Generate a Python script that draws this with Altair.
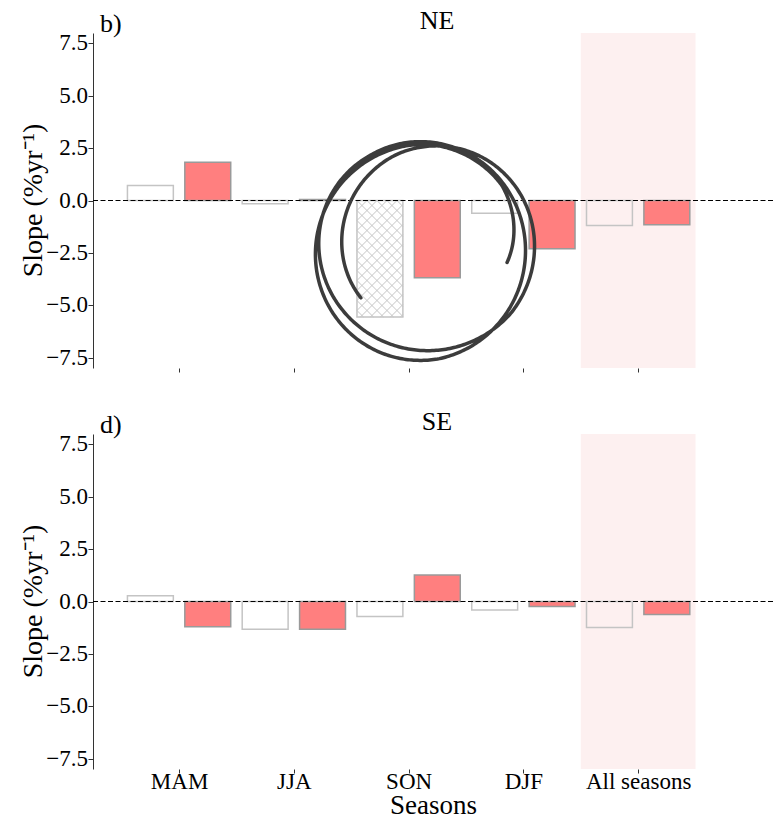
import json

import altair as alt
import numpy as np
import pandas as pd

# ---- values -------------------------------------------------------------
seasons = ["MAM", "JJA", "SON", "DJF", "All seasons"]
ne_white = [0.72, -0.16, -5.57, -0.61, -1.19]
ne_red = [1.83, 0.05, -3.69, -2.31, -1.16]
se_white = [0.27, -1.32, -0.72, -0.40, -1.24]
se_red = [-1.21, -1.32, 1.27, -0.24, -0.62]
y_ticks = [-7.5, -5.0, -2.5, 0.0, 2.5, 5.0, 7.5]
y_title = "Slope (%yr⁻¹)"
highlight_season = "All seasons"

# ---- geometry and style -------------------------------------------------
FONT = "Liberation Serif"
W, H = 680, 335
X_DOMAIN = [-0.75, 5.175]
Y_DOMAIN = [-8.0, 8.0]
OFFSET, HALF = 0.25, 0.2          # bar centre offset and half width (x units)
KX = W / (X_DOMAIN[1] - X_DOMAIN[0])   # pixels per x unit
KY = H / (Y_DOMAIN[1] - Y_DOMAIN[0])   # pixels per y unit
RED = "#ff7f7f"
WHITE_EDGE = "#c4c4c4"
RED_EDGE = "#9a9a9a"
BAND = "#fdf0f0"
HATCH = "#c6c6c6"
INK = "#333333"

X_SCALE = alt.Scale(domain=X_DOMAIN, nice=False, zero=False)
Y_SCALE = alt.Scale(domain=Y_DOMAIN, nice=False, zero=False)


def bar_table(white, red):
    rows = []
    for i, s in enumerate(seasons):
        for series, vals, off in (("white", white, -OFFSET), ("red", red, OFFSET)):
            c = i + off
            rows.append(dict(season=s, series=series, x=c - HALF, x2=c + HALF,
                             value=vals[i], base=0.0))
    return pd.DataFrame(rows)


def hatch_table(x0, x1, v, spacing=10.0):
    """Cross-hatch segments (45 degrees on screen) filling a bar from 0 to v."""
    w = (x1 - x0) * KX
    h = abs(v) * KY
    top = max(v, 0.0)
    segs = []
    # family y = x + c
    for c in np.arange(-np.ceil(w / spacing) * spacing, h, spacing):
        lo, hi = max(0.0, -c), min(w, h - c)
        if hi - lo > 0.5:
            segs.append((lo, lo + c, hi, hi + c))
    # family y = -x + c
    for c in np.arange(spacing, w + h, spacing):
        lo, hi = max(0.0, c - h), min(w, c)
        if hi - lo > 0.5:
            segs.append((lo, c - lo, hi, c - hi))
    rows = [dict(x=x0 + a / KX, y=top - b / KY, x2=x0 + cc / KX, y2=top - d / KY)
            for a, b, cc, d in segs]
    return pd.DataFrame(rows)


def scribble_table():
    """Hand-drawn loop around the SON group (pixel frame of the plot area)."""
    deg = np.linspace(145, 1091, 900)
    th = np.radians(deg)
    r = np.interp(deg, [145, 250, 400, 600, 800, 990, 1040, 1091],
                  [0.78, 0.9, 1.0, 0.95, 1.01, 0.97, 0.9, 0.735])
    cx = 332 + 6 * np.sin(th * 0.37)
    cy = 214 + 4 * np.cos(th * 0.41)
    px = cx + 108 * r * np.cos(th)
    py = cy + 109 * r * np.sin(th)
    return pd.DataFrame({"k": np.arange(len(deg)),
                         "x": X_DOMAIN[0] + px / KX,
                         "y": Y_DOMAIN[1] - py / KY})


def x_axis(show_labels):
    kw = dict(values=list(range(len(seasons))), grid=False, domain=False,
              ticks=True, tickSize=4, tickColor=INK, tickWidth=1,
              labels=show_labels)
    if show_labels:
        kw.update(labelExpr=f"{json.dumps(seasons)}[datum.value]",
                  labelFont=FONT, labelFontSize=23, labelColor="black",
                  labelPadding=-3, title="Seasons", titleFont=FONT,
                  titleFontSize=27, titleFontWeight="normal",
                  titleColor="black", titlePadding=-1)
    else:
        kw.update(title=None)
    return alt.Axis(**kw)


def y_axis():
    # spine and ticks only; tick labels and the title are text layers
    return alt.Axis(values=y_ticks, grid=False, domainColor=INK, domainWidth=1,
                    tickColor=INK, tickSize=5, labels=False, title=None)


def panel(tag, region, white, red, show_labels, hatched_season=None):
    xa = x_axis(show_labels)
    ya = y_axis()
    bars = bar_table(white, red)

    def X(field):
        return alt.X(field, type="quantitative", scale=X_SCALE, axis=xa)

    def Y(field):
        return alt.Y(field, type="quantitative", scale=Y_SCALE, axis=ya)

    hi = seasons.index(highlight_season)
    band_df = pd.DataFrame({"x": [hi - 0.5], "x2": [hi + 0.5],
                            "y": [Y_DOMAIN[1]], "y2": [Y_DOMAIN[0]]})
    band = alt.Chart(band_df).mark_rect(color=BAND).encode(
        x=X("x"), x2="x2", y=Y("y"), y2="y2")

    white_bars = alt.Chart(bars[bars.series == "white"]).mark_bar(
        fill="white", fillOpacity=0, stroke=WHITE_EDGE, strokeWidth=1.5).encode(
        x=X("x"), x2="x2", y=Y("value"), y2="base")

    red_bars = alt.Chart(bars[bars.series == "red"]).mark_bar(
        fill=RED, stroke=RED_EDGE, strokeWidth=1.5).encode(
        x=X("x"), x2="x2", y=Y("value"), y2="base")

    layers = [band, white_bars, red_bars]

    if hatched_season is not None:
        j = seasons.index(hatched_season)
        c = j - OFFSET
        hatch = hatch_table(c - HALF, c + HALF, white[j])
        layers.append(alt.Chart(hatch).mark_rule(color=HATCH, strokeWidth=1).encode(
            x=X("x"), x2="x2", y=Y("y"), y2="y2"))

    zero = alt.Chart(pd.DataFrame({"v": [0.0]})).mark_rule(
        color="black", strokeWidth=1, strokeDash=[5, 2.5]).encode(y=Y("v"))
    layers.append(zero)

    # y tick labels and axis title
    tick_labels = alt.Chart(pd.DataFrame({"v": y_ticks})).mark_text(
        font=FONT, fontSize=23, color="black", align="right",
        baseline="middle").encode(
        y=Y("v"), x=alt.value(-5), text=alt.Text("v:Q", format=".1f"))
    title_y = alt.Chart(pd.DataFrame({"t": [y_title]})).mark_text(
        font=FONT, fontSize=28, color="black", align="center",
        baseline="alphabetic", angle=270).encode(
        text="t:N", x=alt.value(-51), y=alt.value(H / 2))
    layers += [tick_labels, title_y]

    tag_text = alt.Chart(pd.DataFrame({"t": [tag]})).mark_text(
        font=FONT, fontSize=26, color="black", align="left",
        baseline="alphabetic").encode(text="t:N", x=alt.value(7), y=alt.value(-1))
    title_text = alt.Chart(pd.DataFrame({"t": [region]})).mark_text(
        font=FONT, fontSize=26, color="black", align="center",
        baseline="alphabetic").encode(text="t:N", x=alt.value(344), y=alt.value(-4))
    layers += [tag_text, title_text]

    if hatched_season is not None:
        layers.append(alt.Chart(scribble_table()).mark_line(
            color="#3c3c3c", strokeWidth=3.5, strokeCap="round",
            strokeJoin="round").encode(x=X("x"), y=Y("y"), order="k:Q"))

    return alt.layer(*layers).properties(width=W, height=H)


top = panel("b)", "NE", ne_white, ne_red, show_labels=False, hatched_season="SON")
bottom = panel("d)", "SE", se_white, se_red, show_labels=True)

chart = (
    alt.vconcat(top, bottom, spacing=36)
    .properties(padding={"left": 20, "top": 8, "right": 0, "bottom": 0},
                background="white")
    .configure_view(stroke=None)
)

chart.save("out.html", embed_options={"renderer": "svg", "actions": False})
